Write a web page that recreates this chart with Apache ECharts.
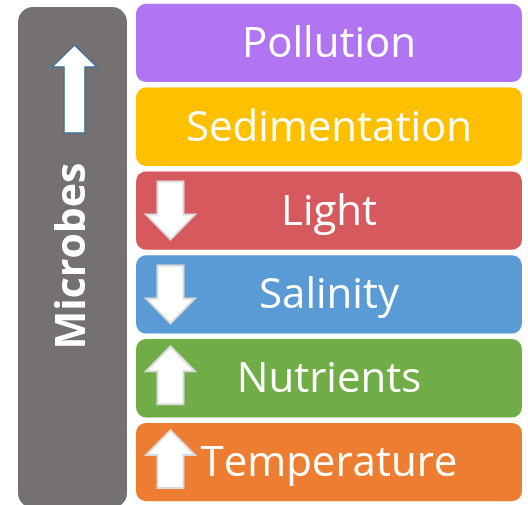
<!DOCTYPE html>
<html>
<head>
<meta charset="utf-8">
<script src="https://cdn.jsdelivr.net/npm/echarts@6/dist/echarts.min.js"></script>
<style>
html,body{margin:0;padding:0;background:#fff;}
#main{width:528px;height:505px;}
</style>
</head>
<body>
<div id="main"></div>
<script>
// ---- data ----
const factors = ['Pollution', 'Sedimentation', 'Light', 'Salinity', 'Nutrients', 'Temperature'];
// effect direction on the factor: 0 = none shown, 1 = increase (up arrow), -1 = decrease (down arrow)
const effects = [0, 0, -1, -1, 1, 1];
const factorColors = ['#B175F4', '#FFC000', '#D6595D', '#5B9BD5', '#70AD47', '#ED7D31'];
const mainLabel = 'Microbes';
const mainEffect = 1;

const FONT = '"Open Sans", "Noto Sans", sans-serif';

function arrowPoints(cx, cy, dir) {
  const hw = 24.5, sw = 13;
  if (dir > 0) {
    const tip = cy - 32, base = cy - 7, bot = cy + 26;
    return [[cx, tip], [cx + hw, base], [cx + sw, base], [cx + sw, bot], [cx - sw, bot], [cx - sw, base], [cx - hw, base]];
  } else {
    const top = cy - 29, base = cy + 4, tip = cy + 29;
    return [[cx - sw, top], [cx + sw, top], [cx + sw, base], [cx + hw, base], [cx, tip], [cx - hw, base], [cx - sw, base]];
  }
}

const chart = echarts.init(document.getElementById('main'), null, {renderer: 'canvas'});

const option = {
  animation: false,
  backgroundColor: '#ffffff',
  grid: {left: 136, right: 6, top: 1, bottom: 1},
  xAxis: {type: 'value', min: 0, max: 1, show: false},
  yAxis: {type: 'category', data: factors, inverse: true, show: false},
  graphic: [
    {
      type: 'rect', shape: {x: 18, y: 7, width: 109, height: 501, r: 15},
      style: {fill: '#767171'}
    },
    {
      type: 'polygon',
      shape: {points: mainEffect > 0
        ? [[74.5, 45], [97, 67], [85, 67], [85, 133], [64, 133], [64, 67], [52, 67]]
        : [[64, 45], [85, 45], [85, 111], [97, 111], [74.5, 133], [52, 111], [64, 111]]},
      style: {fill: '#ffffff', stroke: '#41719C', lineWidth: 1.5}
    },
    {
      type: 'text', x: 73, y: 256, rotation: Math.PI / 2,
      style: {text: mainLabel, fill: '#ffffff', font: 'bold 41px ' + FONT,
        align: 'center', verticalAlign: 'middle', textAlign: 'center', textVerticalAlign: 'middle'}
    }
  ],
  series: [{
    type: 'custom',
    data: factors.map((f, i) => [i, effects[i]]),
    encode: {y: 0},
    renderItem: function (params, api) {
      const idx = api.value(0);
      const dir = api.value(1);
      const c = api.coord([0, idx]);
      const size = api.size([1, 1]);
      const w = size[0], h = size[1] * 0.935;
      const x = c[0], cy = c[1];
      const children = [
        {type: 'rect', shape: {x: x, y: cy - h / 2, width: w, height: h, r: 10},
          style: {fill: factorColors[idx]}},
        {type: 'text', style: {text: factors[idx], x: x + w / 2, y: cy + 2,
          align: 'center', verticalAlign: 'middle', textAlign: 'center', textVerticalAlign: 'middle',
          fill: '#ffffff', font: '42px ' + FONT}}
      ];
      if (dir) {
        children.push({type: 'polygon', shape: {points: arrowPoints(x + 34.5, cy, dir)},
          style: {fill: '#ffffff', stroke: '#DADADA', lineWidth: 2}});
      }
      return {type: 'group', children: children};
    }
  }]
};
chart.setOption(option);
</script>
</body>
</html>
